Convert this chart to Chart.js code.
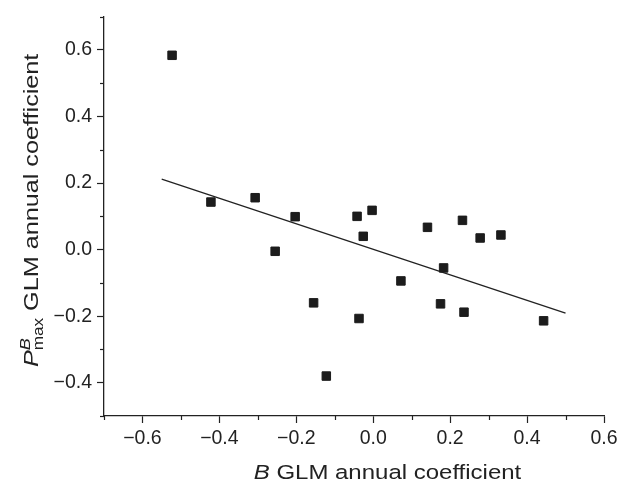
<!DOCTYPE html>
<html>
<head>
<meta charset="utf-8">
<script src="https://cdn.jsdelivr.net/npm/chart.js@4.4.1/dist/chart.umd.min.js"></script>
<style>
  html, body { margin: 0; padding: 0; background: #fff; }
  #wrap { width: 622px; height: 482px; }
</style>
</head>
<body>
<div id="wrap"><canvas id="scatter"></canvas></div>
<script>
// B GLM annual coefficient (x) vs P^B_max GLM annual coefficient (y)
const bCoef = [-0.523, -0.422, -0.307, -0.255, -0.203, -0.155, -0.122, -0.042, -0.037, -0.026,
               -0.003, 0.072, 0.141, 0.175, 0.183, 0.232, 0.236, 0.278, 0.332, 0.443];
const pmaxCoef = [0.584, 0.143, 0.156, -0.005, 0.099, -0.160, -0.380, 0.100, -0.207, 0.040,
                  0.118, -0.094, 0.067, -0.163, -0.055, 0.088, -0.188, 0.035, 0.044, -0.214];

// fitted line end points
const fitX = [-0.55, 0.50];
const fitY = [0.212, -0.191];

const xRange = [-0.7, 0.6];
const yRange = [-0.5, 0.7];
const xLabelled = [-0.6, -0.4, -0.2, 0.0, 0.2, 0.4, 0.6];
const yLabelled = [-0.4, -0.2, 0.0, 0.2, 0.4, 0.6];

const ink = '#222222';
const tickFont = { family: 'Liberation Sans, Arial, sans-serif', size: 19.5 };

function fmt(v) {
    const s = Math.abs(v).toFixed(1);
    return v < -1e-9 ? '\u2212' + s : s;
}

function isLabelled(list, v) {
    return list.some(t => Math.abs(t - v) < 1e-6);
}

// minor ticks (shorter) and axis titles with super/subscripts
const extras = {
    id: 'extras',
    afterDraw(chart) {
        const ctx = chart.ctx;
        const xs = chart.scales.x, ys = chart.scales.y;
        const area = chart.chartArea;
        ctx.save();
        ctx.strokeStyle = ink;
        ctx.lineWidth = 1.2;
        xs.ticks.forEach(t => {
            if (isLabelled(xLabelled, t.value)) return;
            const px = Math.round(xs.getPixelForValue(t.value)) + 0.5;
            ctx.beginPath();
            ctx.moveTo(px, area.bottom);
            ctx.lineTo(px, area.bottom + 4);
            ctx.stroke();
        });
        ys.ticks.forEach(t => {
            if (isLabelled(yLabelled, t.value)) return;
            const py = Math.round(ys.getPixelForValue(t.value)) + 0.5;
            ctx.beginPath();
            ctx.moveTo(area.left, py);
            ctx.lineTo(area.left - 4, py);
            ctx.stroke();
        });

        const fam = 'Liberation Sans, Arial, sans-serif';
        const rest = ' GLM annual coefficient';
        ctx.fillStyle = ink;
        ctx.textBaseline = 'alphabetic';
        ctx.textAlign = 'left';

        // x title
        let fs = 20.5, stretch = 1.17;
        ctx.save();
        ctx.translate(area.left + (area.right - area.left) * 0.567, 479);
        ctx.scale(stretch, 1);
        ctx.font = 'italic ' + fs + 'px ' + fam;
        const wB = ctx.measureText('B').width;
        ctx.font = fs + 'px ' + fam;
        const wRest = ctx.measureText(rest).width;
        let x0 = -(wB + wRest) / 2;
        ctx.font = 'italic ' + fs + 'px ' + fam;
        ctx.fillText('B', x0, 0);
        ctx.font = fs + 'px ' + fam;
        ctx.fillText(rest, x0 + wB, 0);
        ctx.restore();

        // y title
        fs = 21; stretch = 1.2;
        ctx.save();
        ctx.translate(38, (area.top + area.bottom) / 2 - 6);
        ctx.rotate(-Math.PI / 2);
        ctx.scale(stretch, 1);
        ctx.font = 'italic ' + fs + 'px ' + fam;
        const wP = ctx.measureText('P').width;
        ctx.font = 'italic ' + (fs * 0.72) + 'px ' + fam;
        const wSup = ctx.measureText('B').width;
        ctx.font = (fs * 0.68) + 'px ' + fam;
        const wSub = ctx.measureText('max').width;
        ctx.font = fs + 'px ' + fam;
        const wR = ctx.measureText(rest).width;
        const total = wP + Math.max(wSup, wSub) + wR;
        let y0 = -total / 2;
        ctx.font = 'italic ' + fs + 'px ' + fam;
        ctx.fillText('P', y0, 0);
        ctx.font = 'italic ' + (fs * 0.72) + 'px ' + fam;
        ctx.fillText('B', y0 + wP, -fs * 0.38);
        ctx.font = (fs * 0.68) + 'px ' + fam;
        ctx.fillText('max', y0 + wP, fs * 0.22);
        ctx.font = fs + 'px ' + fam;
        ctx.fillText(rest, y0 + wP + Math.max(wSup, wSub), 0);
        ctx.restore();

        ctx.restore();
    }
};

const points = bCoef.map((x, i) => ({ x: x, y: pmaxCoef[i] }));
const fitLine = fitX.map((x, i) => ({ x: x, y: fitY[i] }));

new Chart(document.getElementById('scatter'), {
    type: 'scatter',
    data: {
        datasets: [
            {
                label: 'coefficients',
                data: points,
                pointStyle: 'rect',
                pointRadius: 6,
                pointHoverRadius: 6,
                backgroundColor: '#1c1c1c',
                borderColor: '#1c1c1c',
                borderWidth: 1
            },
            {
                label: 'fit',
                type: 'line',
                data: fitLine,
                showLine: true,
                borderColor: ink,
                borderWidth: 1.3,
                pointRadius: 0,
                fill: false
            }
        ]
    },
    options: {
        responsive: true,
        maintainAspectRatio: false,
        animation: false,
        layout: { padding: { top: 15, right: 18, left: 0, bottom: 0 } },
        plugins: {
            legend: { display: false },
            tooltip: { enabled: false }
        },
        scales: {
            x: {
                type: 'linear',
                min: xRange[0],
                max: xRange[1],
                afterFit: s => { s.height = 66; },
                border: { display: true, color: ink, width: 1.3 },
                grid: {
                    drawOnChartArea: false,
                    tickLength: 7,
                    tickWidth: 1.2,
                    tickColor: c => (c.tick && isLabelled(xLabelled, c.tick.value)) ? ink : 'rgba(0,0,0,0)'
                },
                ticks: {
                    stepSize: 0.1,
                    autoSkip: false,
                    maxRotation: 0,
                    padding: 4,
                    color: ink,
                    font: tickFont,
                    callback: v => isLabelled(xLabelled, v) ? fmt(v) : ''
                }
            },
            y: {
                type: 'linear',
                min: yRange[0],
                max: yRange[1],
                afterFit: s => { s.width = 104; },
                border: { display: true, color: ink, width: 1.3 },
                grid: {
                    drawOnChartArea: false,
                    tickLength: 7,
                    tickWidth: 1.2,
                    tickColor: c => (c.tick && isLabelled(yLabelled, c.tick.value)) ? ink : 'rgba(0,0,0,0)'
                },
                ticks: {
                    stepSize: 0.1,
                    autoSkip: false,
                    padding: 5,
                    color: ink,
                    font: tickFont,
                    callback: v => isLabelled(yLabelled, v) ? fmt(v) : ''
                }
            }
        }
    },
    plugins: [extras]
});
</script>
</body>
</html>
